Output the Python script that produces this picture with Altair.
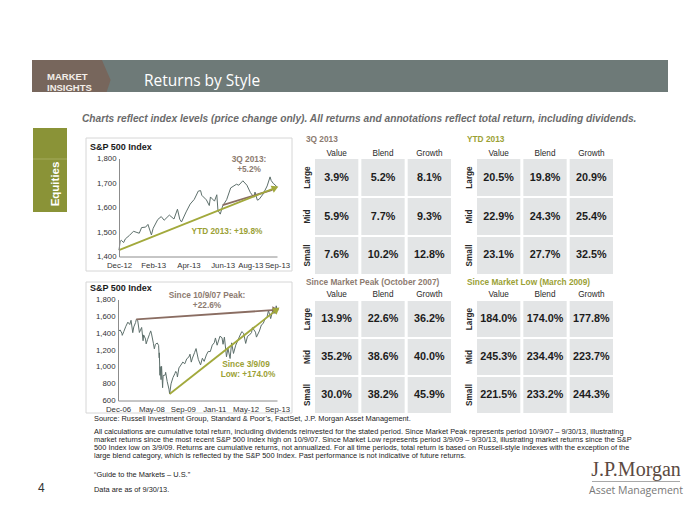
import altair as alt
import pandas as pd

W, H = 684, 509
FONT = "Liberation Sans"
SERIF = "Liberation Serif"


def P(v):
    return v - 8


# ---------------- data ----------------
sp_ytd_dates = [
    "2012-12-31", "2013-01-02", "2013-01-04", "2013-01-08", "2013-01-11", "2013-01-18",
    "2013-01-25", "2013-01-31", "2013-02-04", "2013-02-08", "2013-02-15", "2013-02-19",
    "2013-02-25", "2013-02-28", "2013-03-08", "2013-03-14", "2013-03-19", "2013-03-28",
    "2013-04-05", "2013-04-11", "2013-04-15", "2013-04-18", "2013-04-26", "2013-05-03",
    "2013-05-10", "2013-05-17", "2013-05-21", "2013-05-23", "2013-05-31", "2013-06-05",
    "2013-06-07", "2013-06-14", "2013-06-18", "2013-06-20", "2013-06-24", "2013-06-28",
    "2013-07-05", "2013-07-12", "2013-07-22", "2013-07-26", "2013-08-02", "2013-08-09",
    "2013-08-15", "2013-08-21", "2013-08-23", "2013-08-27", "2013-08-30", "2013-09-06",
    "2013-09-13", "2013-09-18", "2013-09-20", "2013-09-24", "2013-09-27", "2013-09-30",
]
sp_ytd_levels = [
    1426, 1462, 1466, 1457, 1472, 1486,
    1503, 1498, 1495, 1518, 1520, 1531,
    1488, 1515, 1551, 1563, 1548, 1569,
    1553, 1593, 1552, 1541, 1582, 1614,
    1633, 1667, 1669, 1650, 1631, 1608,
    1643, 1626, 1652, 1588, 1573, 1606,
    1632, 1680, 1695, 1691, 1709, 1691,
    1661, 1642, 1663, 1630, 1633, 1655,
    1688, 1725, 1710, 1697, 1692, 1682,
]

sp_long_dates = [
    "2006-12-29", "2007-01-31", "2007-02-27", "2007-03-05", "2007-03-30", "2007-04-30",
    "2007-05-31", "2007-06-29", "2007-07-19", "2007-08-15", "2007-08-31", "2007-09-28",
    "2007-10-09", "2007-10-31", "2007-11-26", "2007-12-31", "2008-01-22", "2008-01-31",
    "2008-02-29", "2008-03-10", "2008-03-31", "2008-04-30", "2008-05-19", "2008-05-30",
    "2008-06-30", "2008-07-15", "2008-07-31", "2008-08-29", "2008-09-19", "2008-09-29",
    "2008-09-30", "2008-10-10", "2008-10-13", "2008-10-27", "2008-11-04", "2008-11-20",
    "2008-11-28", "2008-12-31", "2009-01-06", "2009-01-30", "2009-02-27", "2009-03-09",
    "2009-03-31", "2009-04-30", "2009-05-29", "2009-06-12", "2009-06-30", "2009-07-08",
    "2009-07-31", "2009-08-31", "2009-09-30", "2009-10-30", "2009-11-30", "2009-12-31",
    "2010-01-19", "2010-02-08", "2010-02-26", "2010-03-31", "2010-04-23", "2010-05-28",
    "2010-07-02", "2010-07-30", "2010-08-27", "2010-09-30", "2010-10-29", "2010-11-30",
    "2010-12-31", "2011-01-31", "2011-02-18", "2011-03-16", "2011-04-29", "2011-05-31",
    "2011-06-16", "2011-07-07", "2011-08-08", "2011-08-31", "2011-10-03", "2011-10-27",
    "2011-11-25", "2011-12-30", "2012-01-31", "2012-02-29", "2012-04-02", "2012-04-30",
    "2012-06-01", "2012-06-29", "2012-07-31", "2012-08-31", "2012-09-14", "2012-10-31",
    "2012-11-15", "2012-12-31", "2013-01-31", "2013-02-28", "2013-03-28", "2013-04-30",
    "2013-05-21", "2013-06-24", "2013-07-31", "2013-08-30", "2013-09-18", "2013-09-30",
]
sp_long_levels = [
    1418, 1438, 1400, 1374, 1421, 1482,
    1531, 1503, 1553, 1406, 1474, 1527,
    1565, 1549, 1408, 1468, 1310, 1379,
    1331, 1273, 1323, 1386, 1427, 1400,
    1280, 1214, 1267, 1283, 1255, 1106,
    1166, 899, 1003, 848, 1006, 752,
    896, 903, 935, 826, 735, 677,
    798, 873, 919, 946, 919, 879,
    987, 1021, 1057, 1036, 1096, 1115,
    1150, 1056, 1104, 1169, 1217, 1089,
    1023, 1102, 1065, 1141, 1183, 1181,
    1258, 1286, 1343, 1257, 1364, 1345,
    1268, 1353, 1119, 1219, 1099, 1285,
    1159, 1258, 1312, 1366, 1419, 1398,
    1278, 1362, 1379, 1407, 1466, 1412,
    1353, 1426, 1498, 1515, 1569, 1598,
    1669, 1573, 1686, 1633, 1725, 1682,
]

# annotation arrows (start, end)
ytd_arrow = (["2012-12-31", "2013-09-27"], [1426, 1680])
q3_arrow = (["2013-06-28", "2013-09-22"], [1610, 1672])
peak_arrow = (["2007-10-09", "2013-09-12"], [1565, 1676])
low_arrow = (["2009-03-09", "2013-09-27"], [677, 1680])

short_ticks = ["2012-12-31", "2013-02-28", "2013-04-30", "2013-06-28", "2013-08-15", "2013-09-30"]
long_ticks = ["2006-12-29", "2008-05-30", "2009-09-30", "2011-01-31", "2012-05-31", "2013-09-30"]
short_y_ticks = [1400, 1500, 1600, 1700, 1800]
long_y_ticks = [600, 800, 1000, 1200, 1400, 1600, 1800]

styles = ["Value", "Blend", "Growth"]
sizes = ["Large", "Mid", "Small"]
ret_3q = [[3.9, 5.2, 8.1], [5.9, 7.7, 9.3], [7.6, 10.2, 12.8]]
ret_ytd = [[20.5, 19.8, 20.9], [22.9, 24.3, 25.4], [23.1, 27.7, 32.5]]
ret_peak = [[13.9, 22.6, 36.2], [35.2, 38.6, 40.0], [30.0, 38.2, 45.9]]
ret_low = [[184.0, 174.0, 177.8], [245.3, 234.4, 223.7], [221.5, 233.2, 244.3]]

footnote_lines = [
    "All calculations are cumulative total return, including dividends reinvested for the stated period. Since Market Peak represents period 10/9/07 \u2013 9/30/13, illustrating",
    "market returns since the most recent S&P 500 Index high on 10/9/07. Since Market Low represents period 3/9/09 \u2013 9/30/13, illustrating market returns since the S&P",
    "500 Index low on 3/9/09. Returns are cumulative returns, not annualized. For all time periods, total return is based on Russell-style indexes with the exception of the",
    "large blend category, which is reflected by the S&P 500 Index. Past performance is not indicative of future returns.",
]

# ---------------- colours ----------------
GRAY_BAND = "#6e7a78"
BROWN = "#77665c"
TAB_GREEN = "#8a9337"
OLIVE = "#9ba135"
OLIVE_ARROW = "#a2a93c"
BROWN_TXT = "#8d7b70"
BROWN_ARROW = "#8a6d62"
CELL = "#e3e5e6"
LINE = "#5d6f6b"

ONE = pd.DataFrame({"k": [0]})


def text(s, x, y, size=8, color="#222222", weight="normal", align="left", angle=0,
         font=FONT, style="normal"):
    return alt.Chart(ONE).mark_text(
        text=s, align=align, baseline="middle", fontSize=size, color=color,
        fontWeight=weight, font=font, fontStyle=style, angle=angle,
    ).encode(x=alt.value(P(x)), y=alt.value(P(y)))


def box(x0, y0, x1, y1, fill, stroke=None, sw=1):
    kw = dict(fill=fill)
    if stroke:
        kw.update(stroke=stroke, strokeWidth=sw)
    else:
        kw.update(strokeWidth=0)
    return alt.Chart(ONE).mark_rect(**kw).encode(
        x=alt.value(P(x0)), x2=alt.value(P(x1)), y=alt.value(P(y0)), y2=alt.value(P(y1))
    )


def dt(s):
    y, m, d = (int(p) for p in s.split("-"))
    return alt.DateTime(year=y, month=m, date=d)


def line_chart(dates, levels, xdom, xr, ydom, yr, xticks, yticks, arrows):
    df = pd.DataFrame({"date": pd.to_datetime(dates), "level": levels})
    xs = alt.Scale(domain=[dt(xdom[0]), dt(xdom[1])], range=[P(xr[0]), P(xr[1])], nice=False)
    ys = alt.Scale(domain=ydom, range=[P(yr[0]), P(yr[1])], nice=False, zero=False)
    xax = alt.Axis(orient="bottom", offset=P(yr[0]) - H, values=[dt(t) for t in xticks],
                   format="%b-%y", labelFontSize=7.8, labelColor="#333333", labelFont=FONT,
                   ticks=False, labelPadding=4.5, domainColor="#8c8c8c", grid=False, title=None,
                   labelOverlap=False, labelFlush=False, zindex=2)
    yax = alt.Axis(orient="left", offset=-P(xr[0]), values=yticks, format=",d",
                   labelFontSize=7.8, labelColor="#333333", labelFont=FONT, ticks=False,
                   labelPadding=3, domainColor="#8c8c8c", grid=False, title=None, zindex=2)
    X = alt.X("date:T", scale=xs, axis=xax)
    Y = alt.Y("level:Q", scale=ys, axis=yax)
    layers = [alt.Chart(df).mark_line(color=LINE, strokeWidth=1).encode(x=X, y=Y)]
    for (ad, av), color, head, ang in arrows:
        adf = pd.DataFrame({"date": pd.to_datetime(ad), "level": av})
        layers.append(alt.Chart(adf).mark_line(color=color, strokeWidth=1.8).encode(x=X, y=Y))
        if head:
            layers.append(
                alt.Chart(adf.iloc[[1]]).mark_point(
                    shape="triangle-right", filled=True, size=60, angle=ang,
                    color=color, opacity=1, strokeWidth=0,
                ).encode(x=X, y=Y)
            )
    return alt.layer(*layers)


def table(vals, xr, yr, header_y, rowlab_x):
    df = pd.DataFrame([
        {"col": c, "row": r, "lab": f"{vals[i][j]:.1f}%"}
        for i, r in enumerate(sizes) for j, c in enumerate(styles)
    ])
    xs = alt.Scale(domain=styles, range=[P(xr[0]), P(xr[1])], paddingInner=0.065, paddingOuter=0)
    ys = alt.Scale(domain=sizes, range=[P(yr[0]), P(yr[1])], paddingInner=0.05, paddingOuter=0)
    X = alt.X("col:N", scale=xs, axis=None)
    Y = alt.Y("row:N", scale=ys, axis=None)
    cells = alt.Chart(df).mark_rect(fill=CELL, strokeWidth=0).encode(x=X, y=Y)
    vals_t = alt.Chart(df).mark_text(fontSize=10.8, fontWeight="bold", color="#1c1c1c",
                                     font=FONT).encode(x=X, y=Y, text="lab:N")
    hdr = alt.Chart(pd.DataFrame({"col": styles})).mark_text(
        fontSize=8.2, color="#2a2a2a", font=FONT
    ).encode(x=X, y=alt.value(P(header_y)), text="col:N")
    rl = alt.Chart(pd.DataFrame({"row": sizes})).mark_text(
        fontSize=8.2, fontWeight="bold", color="#2a2a2a", font=FONT, angle=270
    ).encode(y=Y, x=alt.value(P(rowlab_x)), text="row:N")
    return alt.layer(cells, vals_t, hdr, rl)


layers = []

# header band
layers.append(box(32, 60, 668, 92, GRAY_BAND))
layers.append(
    alt.Chart(ONE).mark_point(
        shape="M-1,-0.405L0.77,-0.405L0.99,0.1L0.89,0.405L-1,0.405Z",
        filled=True, fill=BROWN, opacity=1, strokeWidth=0, size=79 * 79,
    ).encode(x=alt.value(P(71.5)), y=alt.value(P(76)))
)
layers.append(text("MARKET", 47, 77, size=9.5, color="#f3eee9", weight="bold"))
layers.append(text("INSIGHTS", 47, 88, size=9.5, color="#f3eee9", weight="bold"))
layers.append(text("Returns by Style", 144, 81, size=15.5, color="#ffffff", font="Open Sans"))

# subtitle
layers.append(text(
    "Charts reflect index levels (price change only).  All returns and annotations reflect total return, including dividends.",
    82, 119, size=10.2, color="#6b6b6b", weight="bold", style="italic"))

# side tab
layers.append(box(33, 128, 67, 212, TAB_GREEN))
layers.append(box(33, 158.5, 67, 159.5, "#a3ab5e"))
layers.append(text("Equities", 56, 184, size=11.5, color="#ffffff", weight="bold", align="center", angle=270))

# chart panels
layers.append(box(86, 138, 292, 271, "#ffffff", stroke="#d6d6d6"))
layers.append(box(86, 282, 292, 413, "#ffffff", stroke="#d6d6d6"))
layers.append(text("S&P 500 Index", 90, 147, size=9, color="#1a1a1a", weight="bold"))
layers.append(text("S&P 500 Index", 90, 288, size=9, color="#1a1a1a", weight="bold"))

layers.append(line_chart(
    sp_ytd_dates, sp_ytd_levels, ("2012-12-31", "2013-09-30"), (119, 277),
    [1400, 1800], (256.5, 158.5), short_ticks, short_y_ticks,
    [(q3_arrow, BROWN_ARROW, False, 0), (ytd_arrow, OLIVE_ARROW, True, 336)],
))
layers.append(line_chart(
    sp_long_dates, sp_long_levels, ("2006-12-29", "2013-09-30"), (118, 277),
    [600, 1800], (400.5, 299.5), long_ticks, long_y_ticks,
    [(peak_arrow, BROWN_ARROW, True, 357), (low_arrow, OLIVE_ARROW, True, 322)],
))

# chart annotations
layers.append(text("3Q 2013:", 249, 160, size=8.3, color=BROWN_TXT, weight="bold", align="center"))
layers.append(text("+5.2%", 249, 170, size=8.3, color=BROWN_TXT, weight="bold", align="center"))
layers.append(text("YTD 2013: +19.8%", 227, 232, size=8.3, color=OLIVE, weight="bold", align="center"))
layers.append(text("Since 10/9/07 Peak:", 207, 296, size=8.3, color=BROWN_TXT, weight="bold", align="center"))
layers.append(text("+22.6%", 207, 306, size=8.3, color=BROWN_TXT, weight="bold", align="center"))
layers.append(text("Since 3/9/09", 246, 365, size=8.3, color=OLIVE, weight="bold", align="center"))
layers.append(text("Low: +174.0%", 248, 375, size=8.3, color=OLIVE, weight="bold", align="center"))

# tables
layers.append(text("3Q 2013", 306, 140, size=8.3, color=BROWN_TXT, weight="bold"))
layers.append(text("YTD 2013", 467, 140, size=8.3, color=OLIVE, weight="bold"))
layers.append(text("Since Market Peak (October 2007)", 306, 283, size=8.3, color=BROWN_TXT, weight="bold"))
layers.append(text("Since Market Low (March 2009)", 467, 283, size=8.3, color=OLIVE, weight="bold"))
layers.append(table(ret_3q, (315, 451), (159, 274), 154, 308))
layers.append(table(ret_ytd, (477, 613), (159, 274), 154, 470))
layers.append(table(ret_peak, (315, 451), (301, 413), 295, 308))
layers.append(table(ret_low, (477, 613), (301, 413), 295, 470))

# footer
layers.append(text("Source: Russell Investment Group, Standard & Poor\u2019s, FactSet, J.P. Morgan Asset Management.",
                   94, 419, size=7.4, color="#222222"))
for i, ln in enumerate(footnote_lines):
    layers.append(text(ln, 94, 431.5 + i * 8.3, size=7.4, color="#222222"))
layers.append(text("\u201cGuide to the Markets \u2013 U.S.\u201d", 94, 475, size=7.4, color="#222222"))
layers.append(text("Data are as of 9/30/13.", 94, 490, size=7.4, color="#222222"))
layers.append(text("4", 38, 488, size=12, color="#333333"))

# logo
layers.append(text("J.P.Morgan", 636, 470, size=20, color="#5b4a42", font=SERIF, align="center"))
layers.append(box(592, 481, 680, 481.8, "#8c8c8c"))
layers.append(text("Asset Management", 636, 491, size=10.5, color="#777777", font="Open Sans", align="center"))

chart = alt.layer(*layers).resolve_scale(x="independent", y="independent").properties(
    width=W, height=H, padding=0, autosize=alt.AutoSizeParams(type="none"),
    background="#ffffff",
).configure_view(stroke=None)

chart.save("out.html", embed_options={"renderer": "svg", "actions": False})
